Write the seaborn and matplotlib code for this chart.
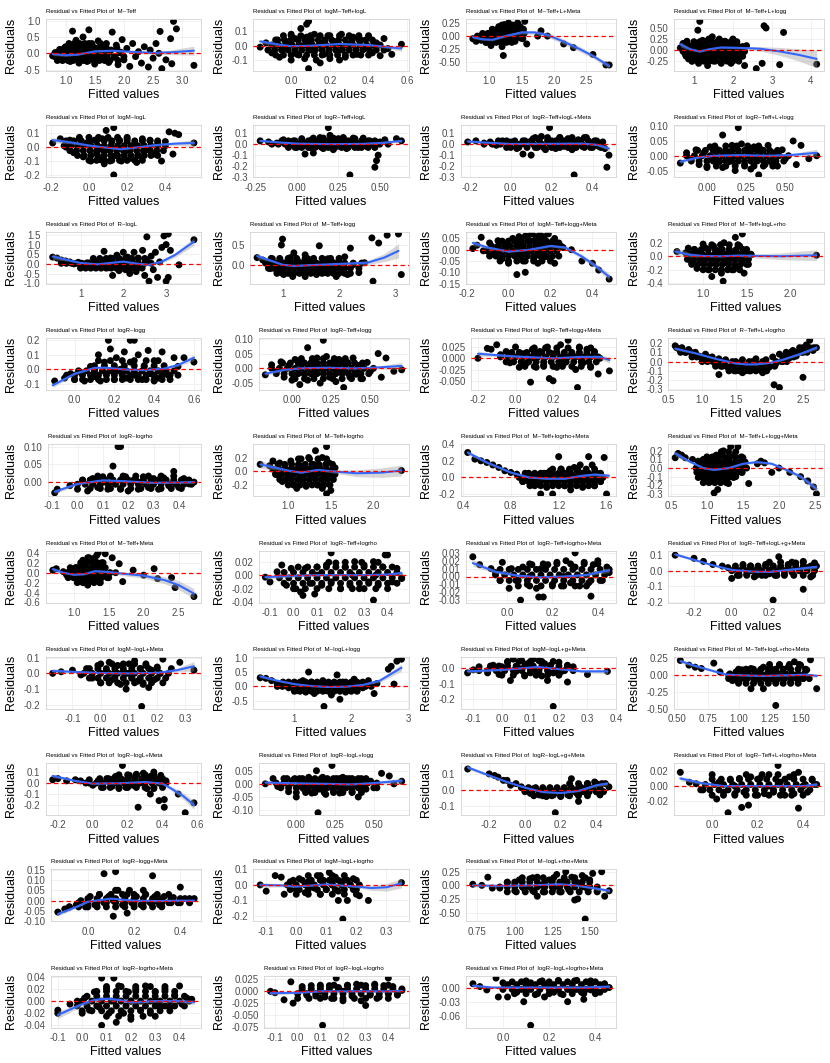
import numpy as np
import pandas as pd
import matplotlib
matplotlib.use("Agg")
import matplotlib.pyplot as plt
import seaborn as sns

sns.set_style("white")
plt.rcParams["font.family"] = ["Liberation Sans", "DejaVu Sans"]

# ---------------- titles ----------------
titles = [
    "M~Teff", "logM~Teff+logL", "M~Teff+L+Meta", "M~Teff+L+logg",
    "logM~logL", "logR~Teff+logL", "logR~Teff+logL+Meta", "logR~Teff+L+logg",
    "R~logL", "M~Teff+logg", "logM~Teff+logg+Meta", "M~Teff+logL+rho",
    "logR~logg", "logR~Teff+logg", "logR~Teff+logg+Meta", "R~Teff+L+logrho",
    "logR~logrho", "M~Teff+logrho", "M~Teff+logrho+Meta", "M~Teff+L+logg+Meta",
    "M~Teff+Meta", "logR~Teff+logrho", "logR~Teff+logrho+Meta", "logR~Teff+logL+g+Meta",
    "logM~logL+Meta", "M~logL+logg", "logM~logL+g+Meta", "M~Teff+logL+rho+Meta",
    "logR~logL+Meta", "logR~logL+logg", "logR~logL+g+Meta", "logR~Teff+L+logrho+Meta",
    "logR~logg+Meta", "logM~logL+logrho", "M~logL+rho+Meta",
    "logR~logrho+Meta", "logR~logL+logrho", "logR~logL+logrho+Meta",
]

# ---------------- scattered points (fitted, residual) ----------------
pts01 = [(0.78,-0.08),(0.82,0.02),(0.86,-0.12),(0.9,0.12),(0.93,-0.2),(0.97,0.05),(1.0,0.2),(1.03,-0.1),(1.06,0.3),(1.08,-0.25),(1.12,0.68),(1.12,0.1),(1.15,-0.15),(1.18,0.4),(1.2,0.0),(1.23,-0.3),(1.26,0.22),(1.3,0.5),(1.3,-0.08),(1.34,0.1),(1.37,-0.25),(1.4,0.72),(1.4,0.3),(1.44,-0.05),(1.47,0.2),(1.5,-0.33),(1.52,0.05),(1.56,0.38),(1.6,-0.18),(1.63,0.15),(1.67,-0.05),(1.7,0.3),(1.74,-0.28),(1.78,0.1),(1.8,0.65),(1.83,-0.12),(1.87,0.25),(1.9,-0.35),(1.93,0.02),(1.97,0.42),(2.0,-0.2),(2.05,0.15),(2.1,-0.4),(2.15,0.3),(2.2,-0.1),(2.25,0.05),(2.3,-0.3),(2.35,0.2),(2.42,-0.42),(2.45,0.1),(2.5,-0.15),(2.55,0.3),(2.6,0.0),(2.62,0.67),(2.65,-0.47),(2.72,-0.2),(2.8,0.45),(2.82,-0.32),(2.85,0.98),(2.9,0.75),(3.2,-0.37)]
pts02 = [(-0.16,-0.01),(-0.13,0.02),(-0.1,-0.05),(-0.08,0.04),(-0.06,-0.08),(-0.04,0.07),(-0.03,-0.02),(-0.01,0.03),(0.0,-0.1),(0.02,0.05),(0.03,-0.06),(0.05,0.12),(0.05,0.0),(0.07,-0.09),(0.08,0.15),(0.08,0.06),(0.09,0.17),(0.09,-0.16),(0.1,-0.03),(0.12,0.08),(0.13,-0.1),(0.15,0.02),(0.17,-0.06),(0.19,0.07),(0.2,-0.09),(0.22,0.03),(0.24,-0.04),(0.26,0.08),(0.28,-0.08),(0.3,0.01),(0.32,0.06),(0.34,-0.06),(0.36,0.04),(0.38,-0.02),(0.4,0.07),(0.42,-0.05),(0.44,0.02),(0.46,-0.07),(0.48,0.05),(0.5,-0.02),(0.52,-0.06),(0.57,0.01),(0.1,0.03),(0.15,-0.12),(0.25,-0.1),(0.0,0.08)]
pts03 = [(0.75,-0.05),(0.8,-0.1),(0.82,0.0),(0.88,-0.08),(0.92,0.02),(0.96,-0.12),(1.0,0.05),(1.03,-0.18),(1.06,-0.05),(1.1,0.1),(1.12,-0.1),(1.15,0.18),(1.18,0.0),(1.2,-0.2),(1.22,-0.37),(1.24,0.22),(1.26,0.08),(1.28,-0.08),(1.3,0.25),(1.32,0.12),(1.34,-0.02),(1.36,0.2),(1.38,0.05),(1.4,-0.1),(1.42,0.15),(1.44,0.25),(1.46,0.02),(1.48,0.18),(1.5,0.1),(1.52,-0.05),(1.55,0.28),(1.58,-0.15),(1.2,0.12),(1.1,-0.02),(1.75,0.0),(1.8,0.1),(1.9,0.0),(2.15,-0.15),(2.3,-0.22),(2.6,-0.35),(2.8,-0.55),(2.85,-0.55)]
pts04 = [(0.65,0.05),(0.72,0.15),(0.78,-0.1),(0.82,0.2),(0.86,-0.2),(0.9,0.08),(0.95,-0.25),(1.0,0.15),(1.05,-0.1),(1.1,0.45),(1.15,0.65),(1.12,-0.3),(1.18,0.05),(1.22,0.22),(1.25,-0.2),(1.3,0.1),(1.35,-0.35),(1.38,0.25),(1.42,-0.05),(1.47,0.3),(1.5,-0.25),(1.55,0.15),(1.6,-0.1),(1.65,0.25),(1.7,-0.3),(1.75,0.05),(1.8,0.2),(1.85,-0.15),(1.9,0.1),(1.95,-0.3),(2.0,0.25),(2.05,-0.1),(2.1,0.15),(2.15,-0.2),(2.2,0.05),(2.3,-0.35),(2.35,0.1),(2.6,-0.42),(2.75,-0.3),(2.8,0.55),(2.85,0.5),(3.2,-0.33),(3.3,0.4),(4.15,-0.32),(1.0,-0.05),(1.3,0.0),(1.6,0.05),(2.0,-0.02)]
pts05 = [(-0.19,0.03),(-0.15,0.06),(-0.12,0.0),(-0.1,0.05),(-0.08,-0.04),(-0.05,0.06),(-0.03,-0.07),(-0.01,0.03),(0.01,-0.1),(0.03,0.05),(0.04,-0.04),(0.06,-0.09),(0.07,0.06),(0.09,0.12),(0.09,-0.02),(0.11,-0.1),(0.12,0.04),(0.13,0.14),(0.13,-0.2),(0.14,-0.06),(0.16,0.05),(0.17,-0.1),(0.19,-0.03),(0.2,0.06),(0.22,-0.08),(0.24,0.02),(0.26,-0.06),(0.28,0.06),(0.3,-0.02),(0.32,0.05),(0.34,-0.05),(0.36,0.03),(0.38,-0.1),(0.4,0.04),(0.42,0.11),(0.44,-0.05),(0.45,0.1),(0.47,0.09),(0.55,0.03),(0.05,0.0),(0.15,0.0),(0.25,-0.11),(0.08,-0.12)]
pts06 = [(-0.22,0.03),(-0.17,0.02),(-0.12,0.01),(-0.08,0.04),(-0.05,-0.02),(-0.02,0.03),(0.0,-0.03),(0.03,0.05),(0.05,-0.09),(0.06,0.0),(0.09,0.04),(0.1,-0.08),(0.12,-0.02),(0.14,0.06),(0.16,-0.04),(0.18,0.02),(0.19,0.15),(0.2,0.08),(0.22,-0.05),(0.24,0.03),(0.26,-0.02),(0.28,0.06),(0.3,-0.04),(0.32,-0.28),(0.33,0.02),(0.35,0.05),(0.37,-0.03),(0.4,0.04),(0.42,-0.02),(0.44,0.03),(0.47,-0.21),(0.48,-0.15),(0.49,-0.1),(0.5,0.02),(0.53,0.04),(0.6,0.05),(0.63,0.03),(0.15,0.0),(0.25,0.05),(0.08,-0.03)]
pts07 = [(-0.21,0.02),(-0.17,0.03),(-0.13,0.01),(-0.1,0.02),(-0.07,-0.01),(-0.04,0.03),(-0.02,-0.03),(0.0,0.02),(0.03,-0.04),(0.06,-0.09),(0.07,0.03),(0.1,-0.1),(0.11,0.05),(0.13,-0.03),(0.15,0.07),(0.17,-0.05),(0.19,0.15),(0.2,0.03),(0.22,-0.04),(0.24,0.06),(0.26,-0.02),(0.28,0.05),(0.3,-0.05),(0.31,-0.28),(0.33,0.04),(0.35,-0.02),(0.37,0.06),(0.39,-0.03),(0.41,0.03),(0.43,-0.02),(0.45,0.02),(0.47,-0.21),(0.48,-0.1),(0.46,-0.04),(0.15,0.0),(0.25,0.0),(0.05,0.0)]
pts08 = [(-0.17,-0.025),(-0.13,0.01),(-0.1,-0.01),(-0.07,0.02),(-0.05,-0.03),(-0.02,0.01),(0.0,-0.04),(0.02,0.03),(0.04,-0.01),(0.07,0.02),(0.1,0.07),(0.1,-0.04),(0.12,0.01),(0.14,-0.02),(0.16,0.035),(0.18,-0.05),(0.2,0.095),(0.2,0.0),(0.22,0.04),(0.24,-0.03),(0.26,0.02),(0.28,-0.045),(0.3,0.03),(0.32,-0.01),(0.33,-0.065),(0.35,0.02),(0.37,-0.03),(0.39,0.035),(0.41,-0.02),(0.43,0.01),(0.45,-0.035),(0.48,0.02),(0.5,-0.01),(0.55,0.05),(0.57,-0.03),(0.6,0.035),(0.65,-0.01),(0.7,0.0),(0.08,-0.02),(0.28,0.0),(0.15,0.0)]
pts09 = [(0.35,0.35),(0.45,0.3),(0.55,0.2),(0.65,0.15),(0.75,0.1),(0.85,0.0),(0.95,0.08),(1.05,-0.05),(1.15,0.05),(1.25,-0.1),(1.35,0.1),(1.45,-0.15),(1.55,0.65),(1.55,0.15),(1.65,-0.2),(1.7,0.3),(1.75,-0.6),(1.8,0.0),(1.85,0.45),(1.9,-0.35),(1.95,0.2),(2.0,0.6),(2.05,-0.3),(2.1,0.35),(2.15,-0.5),(2.2,0.1),(2.25,0.6),(2.3,-0.4),(2.35,0.3),(2.4,-0.15),(2.45,0.7),(2.5,-0.6),(2.55,1.4),(2.55,0.2),(2.6,-0.9),(2.65,0.4),(2.7,-0.3),(2.75,0.6),(2.8,-0.7),(2.85,0.1),(2.9,0.85),(2.95,1.45),(3.0,1.0),(3.0,-0.9),(3.05,1.55),(3.05,-0.7),(3.1,0.7),(3.3,-0.05),(3.65,1.25),(1.2,0.05),(1.6,0.0),(2.0,-0.1)]
pts10 = [(0.55,0.18),(0.65,0.12),(0.72,0.05),(0.78,-0.1),(0.82,0.15),(0.87,-0.05),(0.92,-0.2),(0.96,0.1),(0.98,0.5),(1.0,0.65),(1.02,-0.25),(1.06,0.05),(1.1,-0.1),(1.14,0.18),(1.18,-0.3),(1.22,0.0),(1.26,0.12),(1.3,-0.2),(1.35,0.05),(1.4,-0.3),(1.45,0.15),(1.5,-0.1),(1.55,0.1),(1.6,-0.25),(1.65,0.48),(1.7,0.0),(1.75,-0.2),(1.8,0.15),(1.85,-0.1),(1.9,0.05),(1.95,-0.3),(2.0,0.1),(2.05,-0.15),(2.1,0.2),(2.15,-0.25),(2.2,0.42),(2.25,0.0),(2.35,-0.2),(2.45,0.05),(2.58,0.68),(2.6,-0.42),(2.7,0.55),(2.85,0.75),(3.05,0.78),(3.1,-0.25),(1.2,0.3),(1.4,0.25)]
pts11 = [(-0.17,0.005),(-0.15,0.02),(-0.13,0.055),(-0.12,-0.005),(-0.09,0.03),(-0.07,-0.02),(-0.05,0.04),(-0.03,-0.04),(-0.01,0.02),(0.0,-0.06),(0.02,0.05),(0.03,-0.02),(0.04,-0.11),(0.05,0.03),(0.07,-0.05),(0.08,-0.1),(0.08,0.06),(0.1,0.0),(0.11,0.07),(0.12,-0.04),(0.13,0.03),(0.15,0.065),(0.15,-0.02),(0.17,0.04),(0.18,-0.03),(0.19,0.07),(0.2,0.02),(0.22,-0.06),(0.22,0.05),(0.24,0.03),(0.26,0.01),(0.3,0.0),(0.35,-0.05),(0.4,-0.06),(0.43,-0.09),(0.48,-0.13),(0.06,0.0),(0.14,-0.06),(0.1,0.04)]
pts12 = [(0.7,0.07),(0.8,0.05),(0.83,0.12),(0.87,-0.1),(0.9,0.1),(0.93,-0.18),(0.96,0.05),(1.0,-0.05),(1.03,0.12),(1.06,-0.2),(1.09,0.0),(1.12,0.15),(1.15,-0.12),(1.18,0.08),(1.21,-0.25),(1.23,-0.37),(1.24,0.2),(1.27,-0.05),(1.3,0.1),(1.33,-0.2),(1.36,0.05),(1.37,0.28),(1.4,-0.15),(1.42,0.15),(1.45,0.33),(1.45,-0.05),(1.47,-0.25),(1.5,0.1),(1.52,-0.12),(1.55,0.02),(1.1,-0.3),(1.0,0.18),(1.2,0.0),(2.3,0.015)]
pts13 = [(-0.1,-0.08),(-0.05,-0.06),(-0.02,-0.03),(0.0,-0.07),(0.03,-0.02),(0.05,-0.08),(0.08,0.02),(0.1,-0.05),(0.12,0.1),(0.13,-0.08),(0.15,0.05),(0.16,-0.03),(0.17,0.2),(0.18,0.14),(0.2,-0.07),(0.21,0.08),(0.23,0.0),(0.25,0.12),(0.26,-0.06),(0.28,0.2),(0.28,0.05),(0.3,0.2),(0.3,-0.04),(0.32,0.1),(0.34,-0.07),(0.35,0.02),(0.37,0.13),(0.38,-0.03),(0.4,0.06),(0.42,-0.06),(0.44,0.12),(0.45,0.0),(0.47,-0.04),(0.5,0.08),(0.52,0.02),(0.55,0.08),(0.6,0.05),(0.1,0.0),(0.2,0.0),(0.4,-0.08)]
pts14 = [(-0.17,-0.022),(-0.13,0.012),(-0.1,-0.01),(-0.07,0.022),(-0.05,-0.03),(-0.02,0.01),(0.0,-0.04),(0.02,0.03),(0.05,-0.055),(0.07,0.02),(0.1,0.07),(0.1,-0.04),(0.12,0.01),(0.14,-0.02),(0.16,0.035),(0.18,-0.05),(0.2,0.095),(0.2,0.0),(0.22,0.04),(0.24,-0.03),(0.26,0.02),(0.28,-0.045),(0.3,0.03),(0.32,-0.01),(0.33,-0.065),(0.35,0.02),(0.37,-0.03),(0.39,0.035),(0.41,-0.02),(0.43,0.01),(0.45,-0.035),(0.48,0.02),(0.5,-0.01),(0.55,0.05),(0.57,-0.03),(0.6,0.035),(0.65,-0.01),(0.7,-0.005),(0.08,-0.02),(0.28,0.0),(0.15,0.0)]
pts15 = [(-0.2,0.0),(-0.15,0.022),(-0.13,0.02),(-0.1,0.03),(-0.08,0.008),(-0.05,0.015),(-0.03,-0.01),(0.0,0.025),(0.02,-0.02),(0.04,0.01),(0.06,-0.01),(0.08,-0.053),(0.09,0.02),(0.11,-0.02),(0.13,0.015),(0.15,-0.015),(0.17,0.025),(0.18,-0.045),(0.2,-0.05),(0.2,0.01),(0.22,-0.02),(0.24,0.03),(0.26,-0.01),(0.28,0.04),(0.3,0.01),(0.32,-0.025),(0.33,-0.065),(0.34,0.025),(0.36,-0.01),(0.38,0.02),(0.4,-0.02),(0.42,0.015),(0.44,-0.035),(0.45,0.0),(0.5,-0.028),(0.1,0.0),(0.25,0.0),(0.35,0.0)]
pts16 = [(0.6,0.17),(0.65,0.14),(0.7,0.12),(0.75,0.1),(0.8,0.13),(0.85,0.08),(0.9,0.1),(0.95,0.06),(1.0,0.04),(1.05,0.08),(1.1,0.02),(1.15,0.05),(1.2,-0.02),(1.25,-0.14),(1.25,0.03),(1.3,-0.05),(1.35,0.02),(1.4,-0.08),(1.45,0.0),(1.5,-0.1),(1.55,-0.02),(1.6,-0.12),(1.65,-0.04),(1.7,-0.1),(1.75,0.0),(1.8,-0.08),(1.85,-0.03),(1.9,-0.12),(1.95,0.02),(2.0,-0.06),(2.05,0.05),(2.07,-0.25),(2.1,-0.02),(2.15,-0.28),(2.15,0.08),(2.2,0.0),(2.25,0.1),(2.3,0.04),(2.35,0.12),(2.4,0.06),(2.45,0.15),(2.5,-0.17),(2.5,0.1),(2.55,0.18),(2.6,0.23),(2.65,0.12),(2.7,0.15),(1.6,0.02),(1.8,0.03)]
pts17 = [(-0.09,-0.03),(-0.08,-0.02),(-0.03,-0.01),(0.0,-0.02),(0.02,0.005),(0.04,-0.025),(0.06,0.01),(0.08,-0.015),(0.1,0.015),(0.12,-0.02),(0.14,0.045),(0.14,0.0),(0.16,0.1),(0.17,0.1),(0.17,-0.02),(0.19,0.015),(0.2,-0.025),(0.22,0.005),(0.24,-0.02),(0.26,0.015),(0.28,-0.015),(0.3,0.01),(0.32,-0.02),(0.34,0.012),(0.36,-0.01),(0.38,0.03),(0.38,0.0),(0.4,-0.015),(0.42,0.01),(0.44,-0.005),(0.46,0.0),(0.1,0.0),(0.25,0.0)]
pts18 = [(0.67,0.1),(0.78,0.08),(0.82,0.15),(0.86,-0.05),(0.9,0.12),(0.93,-0.15),(0.96,0.05),(1.0,-0.1),(1.03,0.15),(1.06,-0.2),(1.09,0.02),(1.12,0.18),(1.15,-0.12),(1.18,0.08),(1.21,-0.22),(1.24,0.2),(1.27,-0.05),(1.3,0.1),(1.32,0.3),(1.34,-0.2),(1.37,0.05),(1.4,0.2),(1.43,-0.1),(1.45,0.36),(1.45,-0.33),(1.48,0.12),(1.5,-0.28),(1.52,-0.05),(1.55,0.05),(1.1,-0.25),(1.2,0.0),(1.4,-0.25),(2.33,0.01)]
pts19 = [(0.44,0.3),(0.5,0.22),(0.55,0.2),(0.6,0.18),(0.65,0.15),(0.7,0.12),(0.75,0.08),(0.8,0.06),(0.85,0.04),(0.9,-0.05),(0.92,0.05),(0.96,-0.1),(1.0,0.03),(1.03,-0.08),(1.05,-0.2),(1.08,0.05),(1.1,-0.12),(1.13,0.08),(1.15,-0.2),(1.18,-0.05),(1.2,0.25),(1.22,0.1),(1.25,-0.1),(1.28,0.05),(1.3,-0.15),(1.33,0.12),(1.35,-0.05),(1.38,0.15),(1.4,-0.12),(1.42,0.05),(1.45,0.25),(1.45,-0.05),(1.48,0.15),(1.5,-0.1),(1.52,0.05),(1.55,-0.05),(1.58,0.24),(1.6,-0.2),(1.2,0.0),(1.35,0.0)]
pts20 = [(0.56,0.12),(0.6,0.17),(0.65,0.15),(0.7,0.12),(0.8,0.1),(0.85,0.0),(0.88,0.08),(0.92,-0.05),(0.95,0.1),(0.98,-0.12),(1.0,0.03),(1.03,-0.15),(1.06,0.12),(1.1,-0.29),(1.1,-0.05),(1.13,0.15),(1.15,-0.25),(1.18,0.05),(1.2,-0.15),(1.23,0.2),(1.25,-0.05),(1.28,0.1),(1.3,-0.18),(1.33,0.25),(1.35,0.0),(1.38,0.15),(1.4,-0.1),(1.43,0.25),(1.45,0.05),(1.48,-0.05),(1.5,0.12),(1.55,0.0),(1.58,-0.18),(1.7,0.05),(1.75,0.08),(1.8,0.06),(1.9,-0.05),(2.0,0.0),(2.15,-0.05),(2.3,-0.1),(2.4,-0.15),(2.48,-0.22),(2.52,-0.3)]
pts21 = [(0.7,0.05),(0.75,0.08),(0.85,0.02),(0.9,-0.05),(0.95,0.05),(1.0,-0.1),(1.03,0.1),(1.06,-0.15),(1.1,0.0),(1.13,0.25),(1.15,-0.2),(1.18,0.1),(1.2,-0.25),(1.22,0.3),(1.25,-0.05),(1.28,0.15),(1.3,-0.15),(1.33,0.35),(1.35,0.4),(1.35,0.05),(1.38,-0.2),(1.4,0.2),(1.43,-0.05),(1.45,0.38),(1.45,0.1),(1.5,-0.1),(1.55,0.3),(1.6,0.0),(1.65,0.18),(1.7,-0.18),(1.85,0.05),(2.0,-0.05),(2.15,0.08),(2.2,-0.12),(2.4,-0.1),(2.45,-0.3),(2.72,-0.48),(1.25,0.05),(1.1,0.15)]
pts22 = [(-0.12,-0.003),(-0.1,-0.01),(-0.07,0.005),(-0.05,0.015),(-0.03,-0.015),(-0.01,0.01),(0.01,-0.02),(0.03,-0.025),(0.04,-0.03),(0.05,0.01),(0.07,-0.012),(0.09,-0.028),(0.1,0.012),(0.12,-0.015),(0.14,0.015),(0.16,0.033),(0.16,-0.01),(0.18,0.018),(0.2,-0.02),(0.22,0.012),(0.24,-0.015),(0.26,0.02),(0.28,-0.02),(0.3,0.015),(0.32,-0.01),(0.34,-0.037),(0.34,0.02),(0.36,-0.015),(0.38,0.012),(0.39,0.03),(0.4,0.03),(0.42,-0.01),(0.44,0.01),(0.46,-0.005),(0.1,0.0),(0.25,0.0),(0.35,0.0)]
pts23 = [(-0.15,0.025),(-0.12,0.015),(-0.07,0.01),(-0.05,0.005),(-0.03,-0.005),(-0.02,0.018),(0.01,-0.015),(0.02,0.01),(0.04,-0.005),(0.06,-0.03),(0.07,0.012),(0.09,-0.01),(0.11,0.015),(0.13,-0.015),(0.14,-0.026),(0.15,0.01),(0.16,-0.026),(0.18,0.015),(0.2,-0.01),(0.22,0.018),(0.24,-0.012),(0.26,0.02),(0.28,-0.008),(0.3,0.03),(0.3,0.012),(0.32,-0.012),(0.34,0.018),(0.36,-0.008),(0.37,-0.025),(0.38,0.015),(0.4,0.02),(0.42,-0.005),(0.44,0.012),(0.45,0.005),(0.1,0.0),(0.25,0.0)]
pts24 = [(-0.3,0.1),(-0.2,0.08),(-0.15,0.06),(-0.1,0.04),(-0.05,0.03),(-0.02,0.02),(0.0,-0.05),(0.02,0.01),(0.04,-0.03),(0.06,0.04),(0.08,-0.02),(0.1,0.03),(0.12,-0.04),(0.14,0.02),(0.16,-0.03),(0.18,0.04),(0.2,-0.02),(0.22,-0.19),(0.22,0.03),(0.24,-0.03),(0.25,0.09),(0.26,0.02),(0.28,-0.02),(0.3,0.04),(0.32,-0.01),(0.34,0.05),(0.36,0.0),(0.38,-0.12),(0.38,0.06),(0.4,0.02),(0.42,-0.04),(0.44,0.05),(0.45,0.03),(0.1,0.0),(0.2,0.0)]
pts25 = [(-0.17,0.0),(-0.14,0.01),(-0.1,0.02),(-0.07,-0.01),(-0.05,0.03),(-0.03,-0.03),(-0.01,0.05),(0.0,-0.06),(0.02,0.02),(0.03,0.07),(0.04,-0.04),(0.06,0.05),(0.07,-0.07),(0.08,0.01),(0.09,-0.1),(0.1,0.06),(0.11,-0.03),(0.12,0.08),(0.13,-0.05),(0.14,0.03),(0.145,-0.21),(0.15,-0.07),(0.16,0.05),(0.17,-0.09),(0.18,0.02),(0.19,-0.04),(0.2,0.04),(0.21,0.0),(0.22,0.09),(0.22,-0.06),(0.25,0.03),(0.28,0.07),(0.33,0.02),(0.05,0.0),(0.1,0.0)]
pts26 = [(0.4,0.3),(0.5,0.28),(0.6,0.2),(0.7,0.1),(0.8,0.15),(0.9,-0.05),(1.0,0.1),(1.05,-0.15),(1.1,0.05),(1.15,0.2),(1.2,-0.2),(1.25,0.5),(1.25,0.0),(1.3,0.15),(1.35,-0.25),(1.4,0.05),(1.45,-0.1),(1.5,0.2),(1.52,-0.7),(1.55,-0.15),(1.6,0.1),(1.65,-0.3),(1.7,0.05),(1.75,0.4),(1.75,-0.1),(1.8,-0.45),(1.85,0.15),(1.9,-0.2),(1.95,0.05),(2.0,-0.1),(2.05,0.25),(2.1,-0.15),(2.15,0.1),(2.2,-0.05),(2.3,0.2),(2.4,-0.25),(2.45,0.1),(2.65,0.6),(2.7,0.7),(2.75,0.08),(2.8,0.88),(2.88,0.95),(1.2,0.0),(1.6,0.0)]
pts27 = [(-0.12,-0.03),(-0.1,-0.01),(-0.08,0.01),(-0.05,-0.03),(-0.03,0.02),(-0.01,-0.04),(0.0,0.01),(0.02,0.04),(0.03,-0.08),(0.04,0.06),(0.05,-0.02),(0.07,0.05),(0.08,-0.05),(0.09,0.03),(0.1,-0.03),(0.11,0.06),(0.12,-0.01),(0.13,0.05),(0.14,-0.05),(0.15,0.03),(0.16,-0.08),(0.17,0.02),(0.18,-0.25),(0.18,-0.03),(0.2,0.04),(0.21,-0.02),(0.23,-0.09),(0.23,0.02),(0.25,0.01),(0.3,-0.04),(0.37,-0.02),(0.06,0.0),(0.1,0.0)]
pts28 = [(0.53,0.22),(0.6,0.15),(0.65,0.12),(0.7,0.1),(0.8,0.18),(0.85,0.05),(0.92,0.0),(0.95,-0.08),(0.98,0.05),(1.0,-0.1),(1.03,0.08),(1.06,-0.05),(1.1,-0.2),(1.1,0.1),(1.13,-0.08),(1.16,0.05),(1.2,-0.2),(1.2,0.12),(1.23,-0.05),(1.26,0.1),(1.3,-0.45),(1.3,-0.1),(1.33,0.15),(1.36,-0.05),(1.4,0.12),(1.42,-0.1),(1.45,0.2),(1.48,0.0),(1.5,0.15),(1.52,-0.05),(1.55,0.08),(1.58,0.23),(1.63,-0.2),(1.0,0.0),(1.25,0.0)]
pts29 = [(-0.23,0.03),(-0.2,0.04),(-0.15,0.02),(-0.1,0.03),(-0.07,0.02),(-0.04,0.0),(-0.02,0.03),(0.0,-0.02),(0.03,0.02),(0.06,-0.04),(0.09,0.04),(0.11,-0.03),(0.13,0.06),(0.15,-0.05),(0.17,0.16),(0.17,0.03),(0.19,-0.04),(0.21,0.07),(0.23,-0.02),(0.25,0.08),(0.26,-0.22),(0.27,0.0),(0.29,0.09),(0.31,-0.05),(0.33,-0.1),(0.33,0.06),(0.35,-0.05),(0.35,0.1),(0.37,0.03),(0.38,-0.16),(0.39,0.07),(0.41,-0.15),(0.41,-0.22),(0.42,0.02),(0.49,-0.1),(0.53,-0.27),(0.58,-0.18),(0.2,0.0),(0.3,0.02)]
pts30 = [(-0.2,0.0),(-0.15,0.02),(-0.12,-0.01),(-0.08,0.02),(-0.05,-0.03),(-0.02,0.015),(0.0,-0.05),(0.02,0.02),(0.05,-0.02),(0.08,0.025),(0.1,-0.035),(0.12,0.01),(0.13,0.05),(0.14,-0.11),(0.15,-0.02),(0.17,0.025),(0.19,-0.04),(0.21,0.015),(0.23,0.07),(0.24,-0.025),(0.26,0.02),(0.28,-0.035),(0.3,0.025),(0.32,-0.015),(0.34,0.02),(0.36,-0.03),(0.38,0.015),(0.4,-0.05),(0.42,0.02),(0.45,-0.02),(0.48,0.01),(0.52,-0.015),(0.55,0.04),(0.6,0.03),(0.63,0.0),(0.68,0.01),(0.1,0.0),(0.3,0.0)]
pts31 = [(-0.32,0.13),(-0.2,0.1),(-0.17,0.09),(-0.15,0.08),(-0.12,0.06),(-0.1,0.06),(-0.08,0.03),(-0.05,0.04),(-0.02,0.02),(0.0,0.0),(0.03,-0.02),(0.05,0.01),(0.08,-0.03),(0.1,0.0),(0.12,-0.04),(0.14,0.01),(0.16,-0.03),(0.17,-0.14),(0.18,0.0),(0.2,-0.04),(0.22,0.01),(0.24,-0.03),(0.26,0.07),(0.27,0.0),(0.29,-0.02),(0.3,-0.07),(0.31,0.02),(0.33,-0.01),(0.35,0.04),(0.37,0.01),(0.39,0.05),(0.4,-0.01),(0.42,-0.03),(0.43,0.04),(0.47,0.02),(0.1,-0.01),(0.2,-0.02)]
pts32 = [(-0.14,0.018),(-0.1,0.005),(-0.07,0.003),(-0.04,-0.005),(0.0,0.015),(0.02,-0.017),(0.03,0.005),(0.05,-0.008),(0.07,-0.035),(0.08,0.008),(0.1,-0.01),(0.12,0.01),(0.13,-0.028),(0.14,-0.008),(0.16,-0.025),(0.17,0.012),(0.19,-0.012),(0.21,0.01),(0.23,-0.01),(0.25,0.015),(0.27,-0.008),(0.29,0.027),(0.3,0.005),(0.32,-0.012),(0.34,0.012),(0.36,-0.01),(0.38,-0.029),(0.38,0.018),(0.4,0.0),(0.42,-0.008),(0.44,0.008),(0.46,0.002),(0.1,0.0),(0.25,0.0)]
pts33 = [(-0.13,-0.055),(-0.1,-0.04),(-0.08,-0.03),(-0.05,-0.02),(-0.03,0.0),(-0.01,-0.03),(0.01,0.02),(0.03,-0.02),(0.05,0.03),(0.07,0.13),(0.07,-0.01),(0.09,0.02),(0.11,-0.075),(0.11,0.0),(0.12,0.14),(0.13,0.05),(0.15,-0.02),(0.17,-0.06),(0.17,0.03),(0.19,-0.01),(0.21,0.02),(0.23,-0.02),(0.25,0.03),(0.27,-0.01),(0.28,0.12),(0.29,0.02),(0.31,-0.02),(0.33,0.02),(0.35,-0.01),(0.37,0.015),(0.39,-0.01),(0.4,0.065),(0.42,0.01),(0.44,-0.005),(0.46,0.01),(0.2,0.0),(0.3,0.0)]
pts34 = [(-0.12,0.0),(-0.1,-0.04),(-0.07,0.06),(-0.05,0.05),(-0.04,-0.06),(-0.02,0.02),(0.0,-0.03),(0.01,0.04),(0.03,-0.05),(0.04,0.02),(0.06,-0.02),(0.07,0.06),(0.08,-0.06),(0.09,0.03),(0.1,-0.03),(0.11,0.08),(0.12,0.0),(0.13,0.05),(0.14,-0.1),(0.14,-0.04),(0.155,-0.22),(0.16,0.03),(0.17,-0.1),(0.18,0.0),(0.19,0.04),(0.2,-0.03),(0.21,-0.07),(0.24,-0.1),(0.35,0.015),(0.05,0.0),(0.12,0.02)]
pts35 = [(0.72,0.02),(0.78,0.0),(0.82,0.15),(0.85,-0.05),(0.9,-0.05),(0.95,0.05),(1.0,-0.1),(1.03,0.1),(1.06,-0.05),(1.1,0.12),(1.12,-0.1),(1.15,-0.2),(1.15,0.15),(1.18,0.0),(1.2,-0.12),(1.23,0.1),(1.26,-0.05),(1.28,0.2),(1.3,-0.12),(1.32,0.05),(1.34,0.25),(1.36,-0.08),(1.38,0.15),(1.4,-0.27),(1.42,-0.25),(1.42,0.05),(1.45,0.18),(1.47,-0.62),(1.48,-0.05),(1.5,0.1),(1.52,0.22),(1.55,-0.1),(1.58,0.25),(1.6,-0.2),(1.63,-0.1),(1.0,0.02),(1.25,0.0)]
pts36 = [(-0.1,-0.02),(-0.1,-0.015),(-0.05,-0.005),(-0.02,0.0),(0.0,-0.02),(0.01,0.005),(0.03,-0.015),(0.05,0.015),(0.07,-0.01),(0.08,0.038),(0.08,-0.04),(0.1,0.02),(0.11,-0.02),(0.13,0.038),(0.13,0.0),(0.14,-0.035),(0.15,0.025),(0.17,-0.02),(0.19,0.015),(0.2,-0.03),(0.22,0.02),(0.24,-0.015),(0.26,0.025),(0.28,-0.02),(0.3,0.015),(0.32,-0.01),(0.34,0.02),(0.36,-0.01),(0.38,0.01),(0.4,0.025),(0.41,-0.005),(0.43,0.005),(0.45,0.003),(0.2,0.0),(0.3,0.0)]
pts37 = [(-0.12,0.0),(-0.1,-0.003),(-0.06,-0.018),(-0.03,0.02),(-0.02,-0.025),(0.0,-0.015),(0.02,0.01),(0.04,-0.008),(0.06,0.012),(0.08,-0.01),(0.1,0.01),(0.11,-0.072),(0.12,-0.012),(0.14,0.012),(0.16,-0.015),(0.17,0.028),(0.18,0.008),(0.2,-0.02),(0.22,0.012),(0.24,-0.01),(0.26,0.015),(0.28,-0.02),(0.3,-0.03),(0.3,0.012),(0.32,-0.008),(0.34,0.015),(0.36,-0.012),(0.38,0.012),(0.4,0.028),(0.4,-0.005),(0.42,0.01),(0.44,-0.008),(0.46,0.002),(0.2,0.0),(0.1,0.0)]
pts38 = [(-0.13,0.008),(-0.1,0.002),(-0.07,-0.005),(-0.03,0.02),(-0.02,-0.02),(0.0,0.01),(0.02,-0.02),(0.04,0.012),(0.06,-0.01),(0.08,0.012),(0.09,-0.03),(0.1,-0.008),(0.12,-0.08),(0.12,0.01),(0.14,-0.015),(0.16,0.012),(0.18,-0.02),(0.2,0.012),(0.22,-0.01),(0.24,0.015),(0.26,-0.015),(0.28,-0.03),(0.28,0.012),(0.3,-0.008),(0.32,0.015),(0.34,-0.01),(0.35,-0.025),(0.36,0.012),(0.38,-0.005),(0.4,0.012),(0.42,-0.01),(0.44,0.008),(0.46,0.0),(0.2,0.0),(0.1,0.0)]

# ---------------- dense cores: (residual, [fitted values...]) ----------------
core01 = [(-0.22,[0.86,0.95,1.04,1.13,1.22,1.31,1.4,1.49,1.58,1.67,1.76,1.9]),(-0.1,[0.82,0.9,0.99,1.08,1.17,1.26,1.35,1.44,1.53,1.62,1.71,1.85,2.0]),(0.03,[0.85,0.94,1.03,1.12,1.21,1.3,1.39,1.48,1.57,1.66,1.75,1.95]),(0.16,[0.98,1.07,1.16,1.25,1.34,1.43,1.52,1.61,1.7,1.88]),(0.3,[1.15,1.24,1.33,1.45,1.6])]
core02 = [(-0.065,[-0.08,-0.04,0.0,0.04,0.08,0.12,0.16,0.2,0.24,0.28,0.32,0.36,0.4]),(-0.03,[-0.12,-0.085,-0.05,-0.015,0.02,0.055,0.09,0.125,0.16,0.195,0.23,0.265,0.3,0.335,0.37,0.405,0.44,0.48]),(0.005,[-0.1,-0.065,-0.03,0.005,0.04,0.075,0.11,0.145,0.18,0.215,0.25,0.285,0.32,0.355,0.39,0.425,0.46]),(0.04,[-0.07,-0.035,0.0,0.035,0.07,0.105,0.14,0.175,0.21,0.245,0.28,0.315,0.35,0.385,0.42]),(0.07,[0.0,0.05,0.1,0.15,0.2,0.25,0.3,0.35])]
core03 = [(-0.12,[0.95,1.03,1.11,1.19,1.27,1.35]),(-0.04,[0.85,0.93,1.01,1.09,1.17,1.25,1.33,1.41,1.49]),(0.05,[0.9,0.98,1.06,1.14,1.22,1.3,1.38,1.46,1.54]),(0.13,[1.05,1.13,1.21,1.29,1.37,1.45,1.53]),(0.21,[1.2,1.28,1.36,1.44])]
core04 = [(-0.25,[0.95,1.1,1.25,1.4,1.55,1.7,1.85,2.0,2.15]),(-0.14,[0.8,0.93,1.06,1.19,1.32,1.45,1.58,1.71,1.84,1.97,2.1,2.25]),(-0.03,[0.72,0.85,0.98,1.11,1.24,1.37,1.5,1.63,1.76,1.89,2.02,2.15,2.3]),(0.08,[0.8,0.93,1.06,1.19,1.32,1.45,1.58,1.71,1.84,1.97,2.1,2.25]),(0.19,[1.0,1.15,1.3,1.45,1.6,1.75,1.95,2.1])]
core05 = [(-0.095,[0.0,0.04,0.08,0.12,0.16,0.2,0.24,0.28]),(-0.06,[-0.06,-0.025,0.01,0.045,0.08,0.115,0.15,0.185,0.22,0.255,0.29,0.325,0.36]),(-0.025,[-0.1,-0.065,-0.03,0.005,0.04,0.075,0.11,0.145,0.18,0.215,0.25,0.285,0.32,0.355,0.39]),(0.01,[-0.13,-0.095,-0.06,-0.025,0.01,0.045,0.08,0.115,0.15,0.185,0.22,0.255,0.29,0.325,0.36,0.4]),(0.045,[-0.12,-0.08,-0.04,0.0,0.04,0.08,0.12,0.16,0.2,0.24,0.28,0.32,0.36]),(0.07,[-0.05,0.0,0.05,0.1,0.15,0.2])]
core06 = [(-0.03,[-0.05,-0.01,0.03,0.07,0.11,0.15,0.19,0.23,0.27,0.31,0.35,0.39,0.43,0.47]),(0.0,[-0.15,-0.11,-0.07,-0.03,0.01,0.05,0.09,0.13,0.17,0.21,0.25,0.29,0.33,0.37,0.41,0.45,0.5,0.55]),(0.03,[-0.09,-0.05,-0.01,0.03,0.07,0.11,0.15,0.19,0.23,0.27,0.31,0.35,0.39,0.43,0.47]),(0.055,[0.1,0.16,0.22,0.28,0.34,0.4])]
core07 = [(-0.03,[0.0,0.04,0.08,0.12,0.16,0.2,0.24,0.28,0.32,0.36,0.4,0.44]),(0.0,[-0.13,-0.09,-0.05,-0.01,0.03,0.07,0.11,0.15,0.19,0.23,0.27,0.31,0.35,0.39,0.43]),(0.03,[-0.06,-0.02,0.02,0.06,0.1,0.14,0.18,0.22,0.26,0.3,0.34,0.38,0.42]),(0.06,[0.12,0.18,0.24,0.3,0.36])]
core08 = [(-0.035,[0.0,0.06,0.12,0.18,0.24,0.3,0.36,0.42]),(-0.018,[-0.1,-0.05,0.0,0.04,0.08,0.12,0.16,0.2,0.24,0.28,0.32,0.36,0.4,0.44,0.49]),(0.0,[-0.13,-0.08,-0.03,0.02,0.06,0.1,0.14,0.18,0.22,0.26,0.3,0.34,0.38,0.42,0.46,0.52]),(0.018,[-0.06,-0.01,0.04,0.08,0.12,0.16,0.2,0.24,0.28,0.32,0.36,0.4,0.45]),(0.033,[0.05,0.12,0.19,0.26,0.33])]
core09 = [(-0.22,[1.0,1.12,1.24,1.36,1.48,1.6,1.72,1.84,1.96,2.08,2.2,2.32,2.44]),(0.03,[0.55,0.67,0.79,0.91,1.03,1.15,1.27,1.39,1.51,1.63,1.75,1.87,1.99,2.11,2.23,2.35,2.5,2.65]),(0.28,[1.3,1.45,1.6,1.75,1.9,2.05,2.2,2.35,2.5])]
core10 = [(-0.22,[0.9,1.0,1.1,1.2,1.3,1.4,1.5,1.6,1.7,1.8,1.9,2.0,2.1,2.2]),(-0.09,[0.75,0.84,0.93,1.02,1.11,1.2,1.29,1.38,1.47,1.56,1.65,1.74,1.83,1.92,2.01,2.1,2.2,2.35]),(0.04,[0.7,0.8,0.9,1.0,1.1,1.2,1.3,1.4,1.5,1.6,1.7,1.8,1.9,2.0,2.1,2.25,2.4]),(0.16,[0.8,0.95,1.1,1.25,1.4,1.55,1.7,1.85,2.0])]
core11 = [(-0.05,[-0.04,0.0,0.04,0.08,0.12,0.16,0.2]),(-0.028,[-0.09,-0.06,-0.03,0.0,0.03,0.06,0.09,0.12,0.15,0.18,0.21,0.24]),(-0.006,[-0.1,-0.07,-0.04,-0.01,0.02,0.05,0.08,0.11,0.14,0.17,0.2,0.23]),(0.016,[-0.08,-0.05,-0.02,0.01,0.04,0.07,0.1,0.13,0.16,0.19,0.22,0.25]),(0.038,[-0.03,0.0,0.03,0.06,0.09,0.12,0.15,0.18,0.21]),(0.058,[0.05,0.09,0.13,0.17])]
core12 = [(-0.2,[1.0,1.07,1.14,1.21,1.28,1.35,1.42]),(-0.12,[0.87,0.94,1.01,1.08,1.15,1.22,1.29,1.36,1.43,1.5]),(-0.045,[0.82,0.89,0.96,1.03,1.1,1.17,1.24,1.31,1.38,1.45,1.52]),(0.03,[0.85,0.92,0.99,1.06,1.13,1.2,1.27,1.34,1.41,1.48,1.55]),(0.1,[0.9,0.98,1.06,1.14,1.22,1.3,1.38,1.46]),(0.17,[1.1,1.2,1.3,1.4])]
core13 = [(-0.07,[0.0,0.04,0.08,0.12,0.16,0.2,0.24,0.28,0.32,0.36,0.4,0.44,0.48]),(-0.04,[-0.04,0.0,0.04,0.08,0.12,0.16,0.2,0.24,0.28,0.32,0.36,0.4,0.44,0.48,0.52]),(-0.01,[0.02,0.06,0.1,0.14,0.18,0.22,0.26,0.3,0.34,0.38,0.42,0.46,0.5]),(0.025,[0.1,0.15,0.2,0.25,0.3,0.35,0.4,0.45]),(0.06,[0.12,0.18,0.24,0.3,0.36,0.42])]
core14 = [(-0.035,[0.02,0.08,0.14,0.2,0.26,0.32,0.38,0.44]),(-0.018,[-0.1,-0.05,0.0,0.04,0.08,0.12,0.16,0.2,0.24,0.28,0.32,0.36,0.4,0.44,0.49]),(0.0,[-0.13,-0.08,-0.03,0.02,0.06,0.1,0.14,0.18,0.22,0.26,0.3,0.34,0.38,0.42,0.46,0.52]),(0.018,[-0.06,-0.01,0.04,0.08,0.12,0.16,0.2,0.24,0.28,0.32,0.36,0.4,0.45]),(0.033,[0.06,0.13,0.2,0.27,0.34])]
core15 = [(-0.018,[0.05,0.1,0.15,0.2,0.25,0.3,0.35,0.4]),(-0.008,[-0.05,-0.01,0.03,0.07,0.11,0.15,0.19,0.23,0.27,0.31,0.35,0.39,0.43]),(0.003,[-0.08,-0.04,0.0,0.04,0.08,0.12,0.16,0.2,0.24,0.28,0.32,0.36,0.4,0.44]),(0.013,[-0.02,0.02,0.06,0.1,0.14,0.18,0.22,0.26,0.3,0.34,0.38,0.42]),(0.023,[0.1,0.16,0.22,0.28,0.34,0.4])]
core16 = [(-0.1,[1.4,1.48,1.56,1.64,1.72,1.8,1.88,1.96]),(-0.05,[1.2,1.28,1.36,1.44,1.52,1.6,1.68,1.76,1.84,1.92,2.0,2.08]),(0.0,[1.0,1.08,1.16,1.24,1.32,1.5,1.7,1.9,2.1,2.18,2.26]),(0.05,[0.85,0.92,1.0,1.08,2.2,2.28,2.36]),(0.1,[0.68,0.76,0.84,2.32,2.4,2.48,2.56]),(0.15,[0.62,0.7,2.5,2.6,2.66])]
core17 = [(-0.018,[0.05,0.09,0.13,0.17,0.21,0.25,0.29,0.33,0.37,0.41]),(-0.006,[0.0,0.03,0.06,0.09,0.12,0.15,0.18,0.21,0.24,0.27,0.3,0.33,0.36,0.39,0.42,0.45]),(0.006,[0.02,0.05,0.08,0.11,0.14,0.17,0.2,0.23,0.26,0.29,0.32,0.35,0.38,0.41,0.44]),(0.017,[0.08,0.13,0.18,0.23,0.28,0.33,0.38])]
core18 = [(-0.2,[1.0,1.07,1.14,1.21,1.28,1.35,1.42,1.49]),(-0.12,[0.9,0.97,1.04,1.11,1.18,1.25,1.32,1.39,1.46,1.53]),(-0.045,[0.85,0.92,0.99,1.06,1.13,1.2,1.27,1.34,1.41,1.48,1.55]),(0.03,[0.82,0.89,0.96,1.03,1.1,1.17,1.24,1.31,1.38,1.45,1.52]),(0.1,[0.88,0.96,1.04,1.12,1.2,1.28,1.36,1.44,1.52]),(0.18,[1.15,1.25,1.35,1.45])]
core19 = [(-0.1,[1.0,1.05,1.1,1.15,1.2,1.25,1.3,1.35,1.4,1.45,1.5]),(-0.05,[0.9,0.95,1.0,1.05,1.1,1.15,1.2,1.25,1.3,1.35,1.4,1.45,1.5,1.55]),(0.0,[0.87,0.92,0.97,1.02,1.07,1.12,1.17,1.22,1.27,1.32,1.37,1.42,1.47,1.52,1.57]),(0.05,[0.95,1.0,1.05,1.1,1.15,1.2,1.25,1.3,1.35,1.4,1.45,1.5,1.55]),(0.1,[1.15,1.22,1.29,1.36,1.43,1.5])]
core20 = [(-0.17,[0.95,1.03,1.11,1.19,1.27]),(-0.11,[0.88,0.95,1.02,1.09,1.16,1.23,1.3,1.37]),(-0.05,[0.86,0.93,1.0,1.07,1.14,1.21,1.28,1.35,1.42,1.49]),(0.01,[0.88,0.95,1.02,1.09,1.16,1.23,1.3,1.37,1.44,1.51]),(0.07,[0.9,0.97,1.04,1.11,1.18,1.25,1.32,1.39,1.46,1.53]),(0.13,[1.0,1.08,1.16,1.24,1.32,1.4,1.48]),(0.19,[1.2,1.3,1.4])]
core21 = [(-0.2,[1.05,1.13,1.21,1.29,1.37]),(-0.1,[0.92,1.0,1.08,1.16,1.24,1.32,1.4,1.48]),(0.0,[0.88,0.96,1.04,1.12,1.2,1.28,1.36,1.44,1.52]),(0.1,[0.95,1.03,1.11,1.19,1.27,1.35,1.43]),(0.2,[1.1,1.18,1.26,1.34,1.42]),(0.3,[1.2,1.3])]
core22 = [(-0.02,[0.0,0.05,0.1,0.15,0.2,0.25,0.3,0.35,0.4]),(-0.012,[-0.04,0.0,0.04,0.08,0.12,0.16,0.2,0.24,0.28,0.32,0.36,0.4,0.44]),(-0.004,[-0.06,-0.02,0.02,0.06,0.1,0.14,0.18,0.22,0.26,0.3,0.34,0.38,0.42,0.46]),(0.004,[-0.04,0.0,0.04,0.08,0.12,0.16,0.2,0.24,0.28,0.32,0.36,0.4,0.44]),(0.012,[0.02,0.06,0.1,0.14,0.18,0.22,0.26,0.3,0.34,0.38,0.42]),(0.019,[0.15,0.22,0.29,0.36])]
core23 = [(-0.012,[0.05,0.1,0.15,0.2,0.25,0.3,0.35]),(-0.005,[-0.03,0.01,0.05,0.09,0.13,0.17,0.21,0.25,0.29,0.33,0.37,0.41]),(0.002,[-0.05,-0.01,0.03,0.07,0.11,0.15,0.19,0.23,0.27,0.31,0.35,0.39,0.43]),(0.009,[-0.03,0.01,0.05,0.09,0.13,0.17,0.21,0.25,0.29,0.33,0.37,0.41,0.45]),(0.016,[0.1,0.16,0.22,0.28,0.34,0.4])]
core24 = [(-0.03,[0.03,0.08,0.13,0.18,0.23,0.28,0.33,0.38,0.43]),(0.0,[0.0,0.04,0.08,0.12,0.16,0.2,0.24,0.28,0.32,0.36,0.4,0.44]),(0.03,[0.02,0.06,0.1,0.14,0.18,0.22,0.26,0.3,0.34,0.38,0.42]),(0.055,[0.2,0.26,0.32,0.38])]
core25 = [(-0.06,[0.0,0.03,0.06,0.09,0.12,0.15,0.18]),(-0.03,[-0.04,-0.01,0.02,0.05,0.08,0.11,0.14,0.17,0.2,0.23]),(0.0,[-0.06,-0.03,0.0,0.03,0.06,0.09,0.12,0.15,0.18,0.21,0.24]),(0.03,[-0.04,-0.01,0.02,0.05,0.08,0.11,0.14,0.17,0.2]),(0.06,[0.0,0.04,0.08,0.12,0.16])]
core26 = [(-0.17,[1.0,1.1,1.2,1.3,1.4,1.5,1.6,1.7,1.8,1.9,2.0,2.1]),(0.0,[0.7,0.79,0.88,0.97,1.06,1.15,1.24,1.33,1.42,1.51,1.6,1.69,1.78,1.87,1.96,2.05,2.14,2.25,2.35]),(0.15,[0.9,1.0,1.1,1.2,1.3,1.4,1.5,1.6,1.7,1.8,1.9,2.0,2.1,2.2])]
core27 = [(-0.045,[0.0,0.04,0.08,0.12,0.16,0.2]),(-0.015,[-0.08,-0.05,-0.02,0.01,0.04,0.07,0.1,0.13,0.16,0.19,0.22,0.25]),(0.015,[-0.04,-0.01,0.02,0.05,0.08,0.11,0.14,0.17,0.2,0.23]),(0.045,[0.02,0.06,0.1,0.14,0.18])]
core28 = [(-0.12,[1.0,1.06,1.12,1.18,1.24,1.3,1.36,1.42,1.48]),(-0.05,[0.92,0.97,1.02,1.07,1.12,1.17,1.22,1.27,1.32,1.37,1.42,1.47,1.52,1.57]),(0.02,[0.93,0.98,1.03,1.08,1.13,1.18,1.23,1.28,1.33,1.38,1.43,1.48,1.53]),(0.09,[1.0,1.06,1.12,1.18,1.24,1.3,1.36,1.42,1.48,1.54]),(0.16,[1.25,1.33,1.41,1.49])]
core29 = [(-0.04,[0.05,0.1,0.15,0.2,0.25,0.3,0.35,0.4]),(0.0,[-0.02,0.02,0.06,0.1,0.14,0.18,0.22,0.26,0.3,0.34,0.38,0.42]),(0.04,[0.04,0.08,0.12,0.16,0.2,0.24,0.28,0.32,0.36,0.4]),(0.075,[0.15,0.2,0.25,0.3,0.35])]
core30 = [(-0.033,[0.0,0.06,0.12,0.18,0.24,0.3,0.36,0.42]),(-0.015,[-0.1,-0.05,0.0,0.04,0.08,0.12,0.16,0.2,0.24,0.28,0.32,0.36,0.4,0.44,0.5]),(0.003,[-0.13,-0.08,-0.03,0.02,0.06,0.1,0.14,0.18,0.22,0.26,0.3,0.34,0.38,0.42,0.46,0.52]),(0.02,[-0.06,-0.01,0.04,0.08,0.12,0.16,0.2,0.24,0.28,0.32,0.36,0.4,0.45])]
core31 = [(-0.035,[0.05,0.1,0.15,0.2,0.25,0.3,0.35]),(-0.01,[0.0,0.04,0.08,0.12,0.16,0.2,0.24,0.28,0.32,0.36,0.4,0.44]),(0.015,[-0.02,0.02,0.06,0.1,0.14,0.18,0.22,0.26,0.3,0.34,0.38,0.42]),(0.04,[0.25,0.3,0.35,0.4,0.45])]
core32 = [(-0.012,[0.0,0.05,0.1,0.15,0.2,0.25,0.3,0.35,0.4]),(-0.005,[-0.05,-0.01,0.03,0.07,0.11,0.15,0.19,0.23,0.27,0.31,0.35,0.39,0.43]),(0.002,[-0.03,0.01,0.05,0.09,0.13,0.17,0.21,0.25,0.29,0.33,0.37,0.41,0.45]),(0.009,[0.0,0.04,0.08,0.12,0.16,0.2,0.24,0.28,0.32,0.36,0.4,0.44]),(0.015,[0.15,0.22,0.29,0.36])]
core33 = [(-0.03,[-0.08,-0.04,0.0,0.04,0.08,0.12,0.16,0.2,0.24,0.28,0.32]),(-0.01,[-0.04,0.0,0.04,0.08,0.12,0.16,0.2,0.24,0.28,0.32,0.36,0.4,0.44]),(0.01,[0.0,0.04,0.08,0.12,0.16,0.2,0.24,0.28,0.32,0.36,0.4,0.44]),(0.03,[0.05,0.1,0.15,0.2,0.25,0.3,0.35]),(0.05,[0.12,0.18,0.24])]
core34 = [(-0.06,[0.0,0.04,0.08,0.12,0.16,0.2]),(-0.03,[-0.02,0.01,0.04,0.07,0.1,0.13,0.16,0.19]),(0.0,[-0.03,0.0,0.03,0.06,0.09,0.12,0.15,0.18,0.21]),(0.03,[-0.01,0.02,0.05,0.08,0.11,0.14,0.17,0.2]),(0.06,[0.04,0.08,0.12,0.16])]
core35 = [(-0.12,[0.95,1.01,1.07,1.13,1.19,1.25,1.31,1.37,1.43,1.49,1.55]),(-0.03,[0.9,0.95,1.0,1.05,1.1,1.15,1.2,1.25,1.3,1.35,1.4,1.45,1.5,1.55]),(0.06,[0.95,1.0,1.05,1.1,1.15,1.2,1.25,1.3,1.35,1.4,1.45,1.5]),(0.14,[1.05,1.12,1.19,1.26,1.33,1.4,1.47])]
core36 = [(-0.025,[0.1,0.15,0.2,0.25,0.3]),(-0.016,[0.0,0.04,0.08,0.12,0.16,0.2,0.24,0.28,0.32,0.36]),(-0.008,[-0.02,0.02,0.06,0.1,0.14,0.18,0.22,0.26,0.3,0.34,0.38,0.42]),(0.0,[0.0,0.04,0.08,0.12,0.16,0.2,0.24,0.28,0.32,0.36,0.4,0.44]),(0.008,[0.02,0.06,0.1,0.14,0.18,0.22,0.26,0.3,0.34,0.38,0.42]),(0.016,[0.06,0.1,0.14,0.18,0.22,0.26,0.3,0.34,0.38]),(0.024,[0.1,0.16,0.22,0.28,0.34])]
core37 = [(-0.015,[0.05,0.1,0.15,0.2,0.25,0.3,0.35,0.4]),(-0.005,[0.0,0.04,0.08,0.12,0.16,0.2,0.24,0.28,0.32,0.36,0.4,0.44]),(0.005,[0.02,0.06,0.1,0.14,0.18,0.22,0.26,0.3,0.34,0.38,0.42,0.46]),(0.013,[0.1,0.16,0.22,0.28,0.34,0.4])]
core38 = [(-0.013,[0.05,0.1,0.15,0.2,0.25,0.3,0.35,0.4]),(-0.004,[0.0,0.04,0.08,0.12,0.16,0.2,0.24,0.28,0.32,0.36,0.4,0.44]),(0.006,[0.02,0.06,0.1,0.14,0.18,0.22,0.26,0.3,0.34,0.38,0.42]),(0.014,[0.1,0.17,0.24,0.31,0.38])]

# ---------------- smooth curves: x, fitted y, half-width of band ----------------
sm01 = ([0.78,1.0,1.2,1.5,1.8,2.1,2.5,2.8,3.2], [-0.02,-0.06,-0.04,0.06,0.08,0.05,0.01,0.03,0.08], [0.05,0.03,0.025,0.025,0.03,0.03,0.04,0.07,0.14])
sm02 = ([-0.16,-0.05,0.0,0.1,0.25,0.4,0.5,0.57], [0.03,0.005,-0.003,0.0,0.012,0.005,-0.01,-0.02], [0.015,0.007,0.005,0.004,0.004,0.006,0.01,0.02])
sm03 = ([0.75,0.9,1.05,1.25,1.5,1.7,1.9,2.1,2.4,2.6,2.85], [-0.02,-0.06,-0.07,0.0,0.07,0.07,0.02,-0.08,-0.25,-0.38,-0.57], [0.03,0.02,0.02,0.02,0.03,0.04,0.04,0.05,0.05,0.04,0.05])
sm04 = ([0.65,0.9,1.15,1.4,1.7,2.2,2.7,3.2,3.7,4.15], [0.13,0.02,-0.03,0.02,0.06,0.05,0.03,-0.03,-0.11,-0.2], [0.06,0.03,0.02,0.02,0.02,0.025,0.05,0.09,0.14,0.2])
sm05 = ([-0.19,-0.1,0.0,0.1,0.17,0.25,0.35,0.45,0.55], [0.05,0.035,0.012,-0.005,-0.015,-0.002,0.015,0.025,0.03], [0.02,0.01,0.006,0.005,0.005,0.005,0.008,0.012,0.025])
sm06 = ([-0.22,-0.1,0.0,0.2,0.4,0.5,0.63], [0.03,0.015,0.005,0.0,0.003,0.01,0.03], [0.012,0.006,0.004,0.003,0.004,0.006,0.015])
sm07 = ([-0.21,-0.1,0.0,0.2,0.35,0.42,0.48], [0.025,0.012,0.002,0.003,0.005,-0.005,-0.04], [0.012,0.006,0.004,0.003,0.004,0.008,0.02])
sm08 = ([-0.17,-0.05,0.05,0.2,0.4,0.55,0.7], [-0.02,-0.005,0.0,0.002,0.0,0.003,0.01], [0.006,0.003,0.002,0.002,0.002,0.005,0.012])
sm09 = ([0.35,0.7,1.0,1.4,1.7,2.0,2.3,2.6,2.9,3.2,3.65], [0.38,0.2,0.05,-0.02,0.05,0.12,0.02,-0.05,0.12,0.45,1.15], [0.15,0.06,0.04,0.03,0.03,0.04,0.05,0.06,0.08,0.12,0.2])
sm10 = ([0.55,0.8,1.0,1.2,1.5,2.0,2.5,2.8,3.05], [0.22,0.1,0.0,-0.03,-0.01,0.02,0.05,0.18,0.35], [0.07,0.03,0.02,0.02,0.02,0.03,0.05,0.1,0.18])
sm11 = ([-0.17,-0.1,0.0,0.1,0.2,0.27,0.35,0.42,0.48], [0.03,0.01,-0.008,0.0,0.017,0.01,-0.03,-0.075,-0.12], [0.012,0.006,0.004,0.004,0.005,0.006,0.01,0.012,0.015])
sm12 = ([0.68,0.85,1.0,1.2,1.4,1.6,1.9,2.3], [0.07,0.02,0.005,0.0,0.01,0.005,0.0,0.015], [0.06,0.03,0.015,0.01,0.012,0.03,0.05,0.08])
sm13 = ([-0.11,0.0,0.1,0.15,0.25,0.35,0.45,0.52,0.6], [-0.11,-0.03,0.01,0.012,0.0,-0.005,0.005,0.03,0.08], [0.015,0.008,0.006,0.006,0.005,0.005,0.007,0.01,0.02])
sm14 = ([-0.17,-0.05,0.05,0.2,0.4,0.55,0.7], [-0.018,-0.005,0.0,0.002,0.0,0.003,0.008], [0.006,0.003,0.002,0.002,0.002,0.005,0.012])
sm15 = ([-0.2,-0.1,0.0,0.2,0.35,0.45,0.5], [0.01,0.007,0.004,0.0,0.003,0.003,-0.004], [0.006,0.003,0.002,0.002,0.002,0.004,0.007])
sm16 = ([0.6,0.9,1.2,1.5,1.65,1.8,2.0,2.2,2.45,2.7], [0.14,0.09,0.03,-0.02,-0.03,-0.03,-0.015,0.02,0.08,0.15], [0.015,0.008,0.006,0.005,0.005,0.005,0.006,0.008,0.012,0.02])
sm17 = ([-0.09,0.0,0.1,0.2,0.3,0.4,0.46], [-0.027,-0.005,0.005,0.002,-0.002,-0.001,0.0], [0.006,0.003,0.002,0.002,0.002,0.002,0.004])
sm18 = ([0.67,0.85,1.0,1.15,1.35,1.5,1.8,2.1,2.33], [0.1,0.05,0.01,-0.02,0.02,0.0,-0.03,-0.02,0.01], [0.06,0.03,0.015,0.01,0.012,0.02,0.05,0.07,0.08])
sm19 = ([0.44,0.6,0.8,0.95,1.1,1.25,1.4,1.5,1.62], [0.3,0.18,0.06,0.0,-0.015,-0.015,0.02,0.035,0.02], [0.025,0.015,0.012,0.01,0.008,0.008,0.01,0.015,0.03])
sm20 = ([0.56,0.75,0.95,1.1,1.3,1.5,1.7,1.9,2.1,2.3,2.52], [0.17,0.08,0.0,-0.02,0.0,0.05,0.07,0.05,-0.02,-0.1,-0.24], [0.03,0.015,0.01,0.01,0.01,0.012,0.015,0.015,0.02,0.025,0.035])
sm21 = ([0.7,0.85,1.0,1.15,1.3,1.45,1.7,2.0,2.3,2.5,2.72], [0.07,0.0,-0.04,-0.03,0.03,0.02,-0.02,-0.06,-0.15,-0.25,-0.42], [0.04,0.02,0.015,0.015,0.015,0.02,0.04,0.05,0.07,0.09,0.1])
sm22 = ([-0.12,0.0,0.1,0.2,0.3,0.4,0.46], [-0.003,-0.001,0.0,0.0,0.0,0.001,0.003], [0.003,0.002,0.0015,0.001,0.001,0.0015,0.003])
sm23 = ([-0.15,-0.05,0.05,0.15,0.25,0.35,0.45], [0.017,0.006,0.001,-0.001,0.0,0.002,0.008], [0.004,0.002,0.0015,0.001,0.001,0.0015,0.003])
sm24 = ([-0.3,-0.2,-0.1,0.0,0.1,0.2,0.3,0.45], [0.105,0.07,0.035,0.005,-0.005,-0.008,0.005,0.025], [0.01,0.006,0.005,0.004,0.004,0.004,0.005,0.01])
sm25 = ([-0.17,-0.1,0.0,0.1,0.2,0.27,0.33], [0.015,0.01,0.002,0.0,0.003,0.02,0.045], [0.015,0.008,0.005,0.004,0.005,0.012,0.03])
sm26 = ([0.4,0.7,1.0,1.3,1.6,1.9,2.2,2.5,2.88], [0.35,0.2,0.08,0.01,-0.02,-0.01,0.05,0.2,0.65], [0.05,0.03,0.02,0.015,0.015,0.015,0.025,0.06,0.12])
sm27 = ([-0.12,0.0,0.1,0.13,0.2,0.28,0.37], [-0.02,-0.01,0.005,0.008,-0.005,-0.02,-0.02], [0.01,0.005,0.004,0.004,0.005,0.008,0.015])
sm28 = ([0.53,0.65,0.8,0.9,1.0,1.2,1.4,1.55,1.63], [0.21,0.14,0.06,0.01,0.0,-0.01,0.0,0.01,-0.01], [0.03,0.02,0.015,0.01,0.008,0.008,0.01,0.015,0.03])
sm29 = ([-0.23,-0.1,0.0,0.15,0.3,0.4,0.45,0.52,0.58], [0.065,0.02,-0.005,-0.002,0.01,-0.005,-0.05,-0.12,-0.2], [0.015,0.008,0.006,0.005,0.006,0.01,0.02,0.03,0.04])
sm30 = ([-0.2,0.0,0.2,0.35,0.5,0.68], [0.005,0.002,0.0,-0.002,0.003,0.012], [0.006,0.003,0.002,0.002,0.004,0.01])
sm31 = ([-0.32,-0.2,-0.1,0.0,0.1,0.2,0.3,0.4,0.46], [0.14,0.09,0.05,0.015,-0.012,-0.018,-0.005,0.03,0.04], [0.012,0.007,0.005,0.004,0.004,0.004,0.005,0.008,0.012])
sm32 = ([-0.14,-0.05,0.05,0.2,0.3,0.4,0.46], [0.01,0.004,0.0,0.0,0.0,0.0,0.002], [0.003,0.002,0.0015,0.001,0.001,0.0015,0.003])
sm33 = ([-0.13,-0.05,0.0,0.1,0.2,0.3,0.4,0.46], [-0.065,-0.03,-0.005,0.01,0.0,-0.002,0.0,0.0], [0.01,0.005,0.004,0.003,0.003,0.003,0.003,0.005])
sm34 = ([-0.12,-0.05,0.0,0.1,0.2,0.25,0.3,0.35], [0.0,-0.003,-0.01,0.003,-0.01,-0.02,-0.015,0.01], [0.015,0.01,0.005,0.005,0.007,0.015,0.025,0.03])
sm35 = ([0.72,0.9,1.1,1.3,1.4,1.5,1.63], [0.0,-0.01,0.0,0.02,0.0,-0.04,-0.1], [0.03,0.015,0.01,0.01,0.012,0.02,0.04])
sm36 = ([-0.1,0.0,0.05,0.1,0.15,0.2,0.3,0.4,0.46], [-0.023,-0.005,0.002,0.004,0.002,-0.002,0.0,0.0,-0.002], [0.006,0.003,0.002,0.002,0.002,0.002,0.002,0.002,0.004])
sm37 = ([-0.12,0.0,0.1,0.2,0.3,0.4,0.46], [-0.004,-0.003,0.0,0.0,0.0,0.0,0.001], [0.004,0.002,0.0015,0.001,0.001,0.0015,0.003])
sm38 = ([-0.13,-0.05,0.05,0.2,0.35,0.46], [0.004,0.0,0.0,0.0,0.0,0.002], [0.004,0.002,0.0015,0.001,0.0015,0.003])

# ---------------- tick labels ----------------
xt01 = ["1.0","1.5","2.0","2.5","3.0"]; yt01 = ["-0.5","0.0","0.5","1.0"]
xt02 = ["0.0","0.2","0.4","0.6"]; yt02 = ["-0.1","0.0","0.1"]
xt03 = ["1.0","1.5","2.0","2.5"]; yt03 = ["-0.50","-0.25","0.00","0.25"]
xt04 = ["1","2","3","4"]; yt04 = ["-0.25","0.00","0.25","0.50"]
xt05 = ["-0.2","0.0","0.2","0.4"]; yt05 = ["-0.2","-0.1","0.0","0.1"]
xt06 = ["-0.25","0.00","0.25","0.50"]; yt06 = ["-0.3","-0.2","-0.1","0.0","0.1"]
xt07 = ["-0.2","0.0","0.2","0.4"]; yt07 = ["-0.3","-0.2","-0.1","0.0","0.1"]
xt08 = ["0.00","0.25","0.50"]; yt08 = ["-0.05","0.00","0.05","0.10"]
xt09 = ["1","2","3"]; yt09 = ["-1.0","-0.5","0.0","0.5","1.0","1.5"]
xt10 = ["1","2","3"]; yt10 = ["0.0","0.5"]
xt11 = ["-0.2","0.0","0.2","0.4"]; yt11 = ["-0.15","-0.10","-0.05","0.00","0.05"]
xt12 = ["1.0","1.5","2.0"]; yt12 = ["-0.4","-0.2","0.0","0.2"]
xt13 = ["0.0","0.2","0.4","0.6"]; yt13 = ["-0.1","0.0","0.1","0.2"]
xt14 = ["0.00","0.25","0.50"]; yt14 = ["-0.05","0.00","0.05","0.10"]
xt15 = ["-0.2","0.0","0.2","0.4"]; yt15 = ["-0.050","-0.025","0.000","0.025"]
xt16 = ["0.5","1.0","1.5","2.0","2.5"]; yt16 = ["-0.3","-0.2","-0.1","0.0","0.1","0.2"]
xt17 = ["-0.1","0.0","0.1","0.2","0.3","0.4"]; yt17 = ["0.00","0.05","0.10"]
xt18 = ["1.0","1.5","2.0"]; yt18 = ["-0.2","0.0","0.2"]
xt19 = ["0.4","0.8","1.2","1.6"]; yt19 = ["-0.2","0.0","0.2","0.4"]
xt20 = ["0.5","1.0","1.5","2.0","2.5"]; yt20 = ["-0.3","-0.2","-0.1","0.0","0.1","0.2"]
xt21 = ["1.0","1.5","2.0","2.5"]; yt21 = ["-0.6","-0.4","-0.2","0.0","0.2","0.4"]
xt22 = ["-0.1","0.0","0.1","0.2","0.3","0.4"]; yt22 = ["-0.04","-0.02","0.00","0.02"]
xt23 = ["0.0","0.2","0.4"]; yt23 = ["-0.03","-0.02","-0.01","0.00","0.01","0.02","0.03"]
xt24 = ["-0.2","0.0","0.2","0.4"]; yt24 = ["-0.2","-0.1","0.0","0.1"]
xt25 = ["-0.1","0.0","0.1","0.2","0.3"]; yt25 = ["-0.2","-0.1","0.0","0.1"]
xt26 = ["1","2","3"]; yt26 = ["-0.5","0.0","0.5","1.0"]
xt27 = ["-0.1","0.0","0.1","0.2","0.3","0.4"]; yt27 = ["-0.2","-0.1","0.0"]
xt28 = ["0.50","0.75","1.00","1.25","1.50"]; yt28 = ["-0.50","-0.25","0.00","0.25"]
xt29 = ["-0.2","0.0","0.2","0.4","0.6"]; yt29 = ["-0.2","-0.1","0.0","0.1"]
xt30 = ["0.00","0.25","0.50"]; yt30 = ["-0.10","-0.05","0.00","0.05"]
xt31 = ["-0.2","0.0","0.2","0.4"]; yt31 = ["-0.1","0.0","0.1"]
xt32 = ["0.0","0.2","0.4"]; yt32 = ["-0.02","0.00","0.02"]
xt33 = ["0.0","0.2","0.4"]; yt33 = ["-0.10","-0.05","0.00","0.05","0.10","0.15"]
xt34 = ["-0.1","0.0","0.1","0.2","0.3"]; yt34 = ["-0.2","-0.1","0.0","0.1"]
xt35 = ["0.75","1.00","1.25","1.50"]; yt35 = ["-0.50","-0.25","0.00","0.25"]
xt36 = ["-0.1","0.0","0.1","0.2","0.3","0.4"]; yt36 = ["-0.04","-0.02","0.00","0.02","0.04"]
xt37 = ["-0.1","0.0","0.1","0.2","0.3","0.4"]; yt37 = ["-0.075","-0.050","-0.025","0.000","0.025"]
xt38 = ["0.0","0.2","0.4"]; yt38 = ["-0.06","-0.03","0.00"]

panel_pts = [pts01,pts02,pts03,pts04,pts05,pts06,pts07,pts08,pts09,pts10,pts11,pts12,pts13,pts14,pts15,pts16,pts17,pts18,pts19,
             pts20,pts21,pts22,pts23,pts24,pts25,pts26,pts27,pts28,pts29,pts30,pts31,pts32,pts33,pts34,pts35,pts36,pts37,pts38]
panel_core = [core01,core02,core03,core04,core05,core06,core07,core08,core09,core10,core11,core12,core13,core14,core15,core16,core17,core18,core19,
              core20,core21,core22,core23,core24,core25,core26,core27,core28,core29,core30,core31,core32,core33,core34,core35,core36,core37,core38]
panel_sm = [sm01,sm02,sm03,sm04,sm05,sm06,sm07,sm08,sm09,sm10,sm11,sm12,sm13,sm14,sm15,sm16,sm17,sm18,sm19,
            sm20,sm21,sm22,sm23,sm24,sm25,sm26,sm27,sm28,sm29,sm30,sm31,sm32,sm33,sm34,sm35,sm36,sm37,sm38]
panel_xt = [xt01,xt02,xt03,xt04,xt05,xt06,xt07,xt08,xt09,xt10,xt11,xt12,xt13,xt14,xt15,xt16,xt17,xt18,xt19,
            xt20,xt21,xt22,xt23,xt24,xt25,xt26,xt27,xt28,xt29,xt30,xt31,xt32,xt33,xt34,xt35,xt36,xt37,xt38]
panel_yt = [yt01,yt02,yt03,yt04,yt05,yt06,yt07,yt08,yt09,yt10,yt11,yt12,yt13,yt14,yt15,yt16,yt17,yt18,yt19,
            yt20,yt21,yt22,yt23,yt24,yt25,yt26,yt27,yt28,yt29,yt30,yt31,yt32,yt33,yt34,yt35,yt36,yt37,yt38]

# ---------------- layout ----------------
W, H = 830, 1063
CW, RH = 207.5, 106.3
fig = plt.figure(figsize=(W / 100, H / 100), dpi=100)
fig.patch.set_facecolor("white")


def cell_of(i):
    if i < 32:
        return i // 4, i % 4
    if i < 35:
        return 8, i - 32
    return 9, i - 35


axes = []
for i in range(len(titles)):
    r, c = cell_of(i)
    ax = fig.add_axes([0.1, 0.1, 0.2, 0.05])
    rows = list(panel_pts[i])
    for yv, xvals in panel_core[i]:
        rows.extend((xv, yv) for xv in xvals)
    df = pd.DataFrame(rows, columns=["fitted", "resid"])
    sx, sy, sb = panel_sm[i]
    sx = np.array(sx); sy = np.array(sy); sb = np.array(sb)
    lo, hi = sy - sb, sy + sb

    sns.scatterplot(data=df, x="fitted", y="resid", ax=ax, s=25, color="black",
                    edgecolor="none", linewidth=0, zorder=2, legend=False)
    ax.fill_between(sx, lo, hi, color="#999999", alpha=0.4, linewidth=0, zorder=3)
    sns.lineplot(x=sx, y=sy, ax=ax, color="#3366FF", linewidth=1.5, zorder=4,
                 estimator=None, sort=True)
    ax.axhline(0, color="#FF0000", linestyle=(0, (3.5, 2.5)), linewidth=0.9, zorder=5)

    xs = np.concatenate([df["fitted"].values, sx])
    ys = np.concatenate([df["resid"].values, lo, hi])
    x0, x1 = xs.min(), xs.max()
    y0, y1 = ys.min(), ys.max()
    dx, dy = (x1 - x0) * 0.05, (y1 - y0) * 0.05
    ax.set_xlim(x0 - dx, x1 + dx)
    ax.set_ylim(y0 - dy, y1 + dy)

    xt = panel_xt[i]; yt = panel_yt[i]
    ax.set_xticks([float(t) for t in xt]); ax.set_xticklabels(xt)
    ax.set_yticks([float(t) for t in yt]); ax.set_yticklabels(yt)
    ax.tick_params(axis="both", length=2.2, width=0.5, color="#333333", pad=1.6,
                   labelsize=7, labelcolor="#4D4D4D")
    ax.grid(True, color="#EBEBEB", linewidth=0.5, zorder=0)
    ax.set_axisbelow(True)
    for sp in ax.spines.values():
        sp.set_color("#D3D3D3")
        sp.set_linewidth(0.6)
    ax.set_facecolor("white")
    ax.set_xlabel("Fitted values", fontsize=9, color="black", va="center")
    ax.set_ylabel("Residuals", fontsize=9, color="black", va="center", ha="center")
    ax.set_title("Residual vs Fitted Plot of  " + titles[i], loc="left", fontsize=4.4,
                 pad=4.3, color="black")
    axes.append((ax, r, c))

fig.canvas.draw()
renderer = fig.canvas.get_renderer()
for ax, r, c in axes:
    wl = 0
    for t in ax.get_yticklabels():
        if t.get_visible() and t.get_text():
            wl = max(wl, t.get_window_extent(renderer).width)
    cx0, cy0 = c * CW, r * RH
    left = cx0 + 25 + wl + 4
    right = cx0 + 201
    top = cy0 + 19
    bot = cy0 + 71
    ax.set_position([left / W, 1 - bot / H, (right - left) / W, (bot - top) / H])
    ax.yaxis.set_label_coords((cx0 + 11) / W, 1 - (top + bot) / 2 / H, transform=fig.transFigure)
    ax.xaxis.set_label_coords((left + right) / 2 / W, 1 - (cy0 + 95.5) / H, transform=fig.transFigure)

fig.savefig("out.png", dpi=100, facecolor="white")
